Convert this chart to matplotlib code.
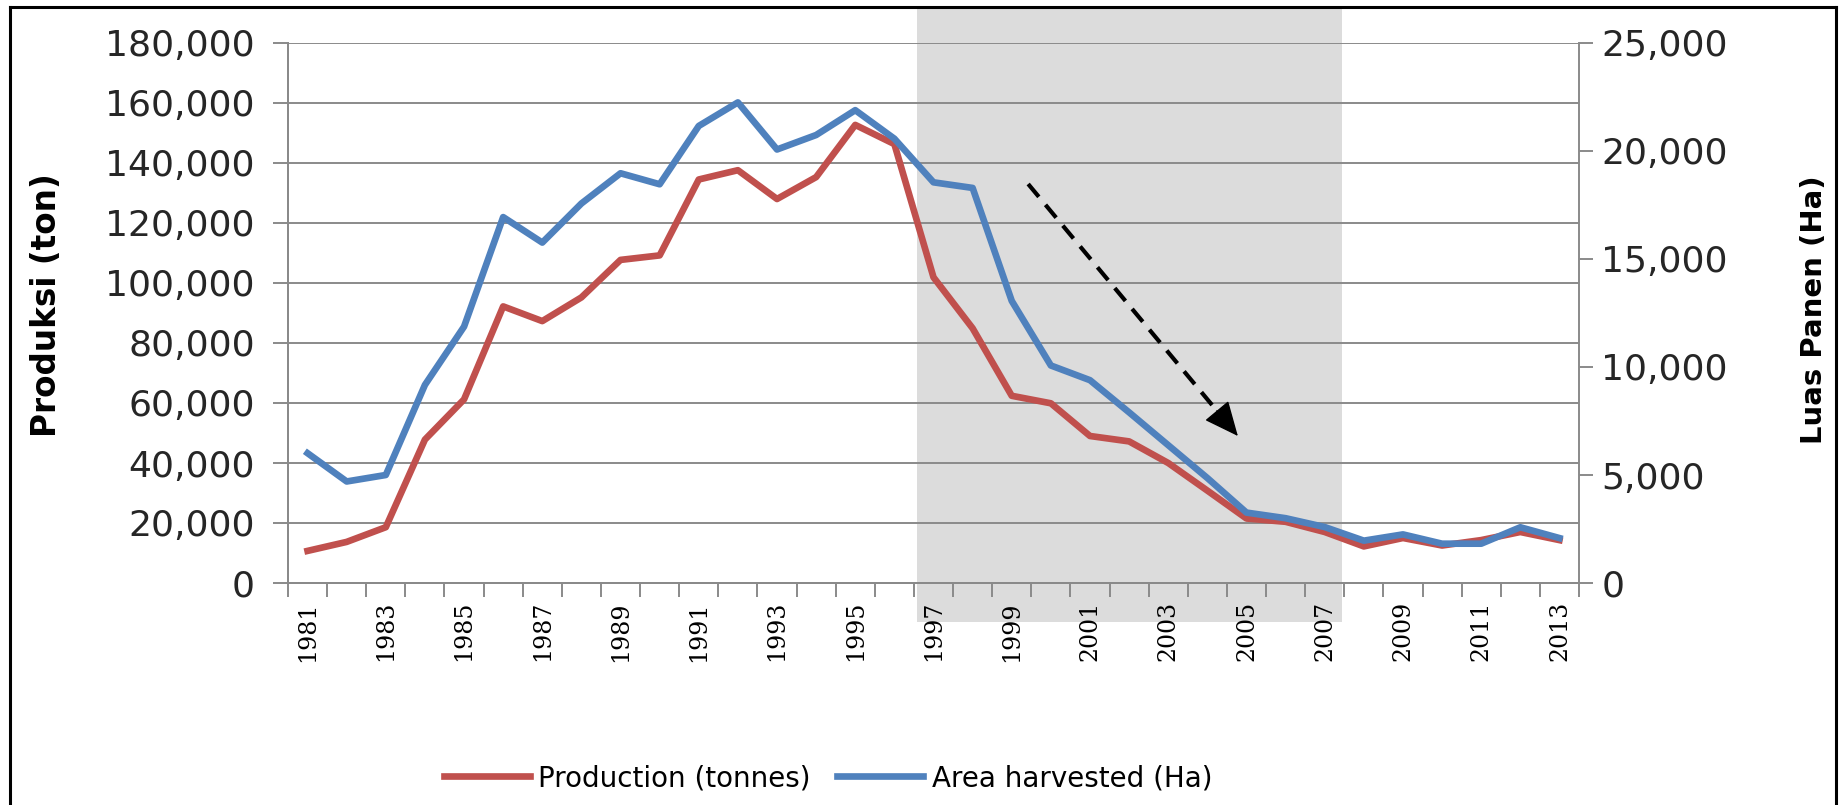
import numpy as np
import matplotlib
matplotlib.use('Agg')
import matplotlib.pyplot as plt
from matplotlib.patches import Rectangle
from matplotlib.lines import Line2D
from matplotlib.ticker import FuncFormatter
import matplotlib.transforms as mtransforms

# data
years = np.arange(1981, 2014)
production = [10700, 13700, 18600, 47800, 61200, 92200, 87300, 95200, 107700, 109200,
              134500, 137600, 128000, 135300, 152700, 146300, 101900, 84900, 62400, 59900,
              49000, 47200, 40000, 30800, 21500, 20400, 17000, 12200, 15000, 12500,
              14300, 17000, 14300]
area = [6010, 4700, 5000, 9170, 11870, 16940, 15760, 17570, 18970, 18460,
        21160, 22250, 20070, 20740, 21890, 20570, 18550, 18290, 13060, 10070,
        9390, 7900, 6380, 4860, 3260, 3000, 2590, 1960, 2250, 1820,
        1820, 2580, 2080]
labels = ['Production (tonnes)', 'Area harvested (Ha)']

red = '#C0504D'
blue = '#4F81BD'
grey = '#8a8a8a'

W, H = 1841, 805
fig = plt.figure(figsize=(W / 100, H / 100), dpi=100)
ax = fig.add_axes([288 / W, 1 - 583 / H, (1579 - 288) / W, 540 / H])
ax2 = ax.twinx()

x = np.arange(len(years))
l1, = ax.plot(x, production, color=red, lw=4.8, zorder=3)
l2, = ax2.plot(x, area, color=blue, lw=4.8, zorder=3)

ax.set_xlim(-0.5, len(years) - 0.5)
ax.set_ylim(0, 180000)
ax2.set_ylim(0, 25000)

fmt = FuncFormatter(lambda v, p: f'{int(v):,}')
ax.set_yticks(np.arange(0, 180001, 20000))
ax.yaxis.set_major_formatter(fmt)
ax2.set_yticks(np.arange(0, 25001, 5000))
ax2.yaxis.set_major_formatter(fmt)

ax.grid(axis='y', color=grey, lw=1.4)
for a in (ax, ax2):
    for s in a.spines.values():
        s.set_color(grey)
        s.set_linewidth(1.4)
    a.spines['top'].set_visible(False)
ax.spines['right'].set_visible(False)

ax.tick_params(axis='y', direction='out', length=11, width=1.4, color=grey,
               pad=13, labelsize=26, labelcolor='#262626')
ax2.tick_params(axis='y', direction='out', length=10, width=1.4, color=grey,
                pad=6, labelsize=26, labelcolor='#262626')

# labels on every other year (major, no tick mark), tick marks between categories (minor)
ax.set_xticks(x[::2], labels=[str(y) for y in years[::2]])
ax.set_xticks(np.arange(-0.5, len(years)), minor=True)
ax.tick_params(axis='x', which='minor', direction='out', length=10, width=1.4, color=grey)
ax.tick_params(axis='x', which='major', length=0, pad=13, labelsize=17,
               labelrotation=90, labelcolor='black')
for t in ax.get_xticklabels():
    t.set_fontfamily('DejaVu Serif')

# grey band 1997-2007
trans = mtransforms.blended_transform_factory(ax.transData, fig.transFigure)
band = Rectangle((15.59, 1 - 622 / H), 26.43 - 15.59, (622 - 9) / H, transform=trans,
                 facecolor='#dcdcdc', edgecolor='none', zorder=0.2, clip_on=False)
ax.add_artist(band)

# dashed trend arrow: dashed shaft + solid head
x0, y0, x1, y1 = 18.42, 133000, 23.78, 49000
f = 0.90
xm, ym = x0 + f * (x1 - x0), y0 + f * (y1 - y0)
ax.plot([x0, xm], [y0, ym], color='black', lw=3, ls=(0, (4, 2.5)), zorder=4)
ax.annotate('', xy=(x1, y1), xytext=(xm, ym),
            arrowprops=dict(arrowstyle='-|>,head_length=1.0,head_width=0.45',
                            mutation_scale=22, color='black', lw=1,
                            shrinkA=0, shrinkB=0),
            zorder=4)

fig.text(47 / W, 1 - 305 / H, 'Produksi (ton)', rotation=90, ha='center', va='center',
         fontsize=23.5, fontweight='bold')
fig.text(1814 / W, 1 - 310 / H, 'Luas Panen (Ha)', rotation=90, ha='center', va='center',
         fontsize=21, fontweight='bold')

fig.legend([l1, l2], labels, loc='center', bbox_to_anchor=(828 / W, 1 - 778 / H),
           ncol=2, frameon=False, fontsize=20, handlelength=3.1,
           handletextpad=0.3, columnspacing=0.95)

# outer frame
fx0, fx1, fy1 = 10 / W, 1836 / W, 1 - 7 / H
for xs, ys in [([fx0, fx0], [0, fy1]), ([fx0, fx1], [fy1, fy1]), ([fx1, fx1], [0, fy1])]:
    fig.add_artist(Line2D(xs, ys, color='black', lw=2.2, transform=fig.transFigure))

fig.savefig('out.png', dpi=100)
